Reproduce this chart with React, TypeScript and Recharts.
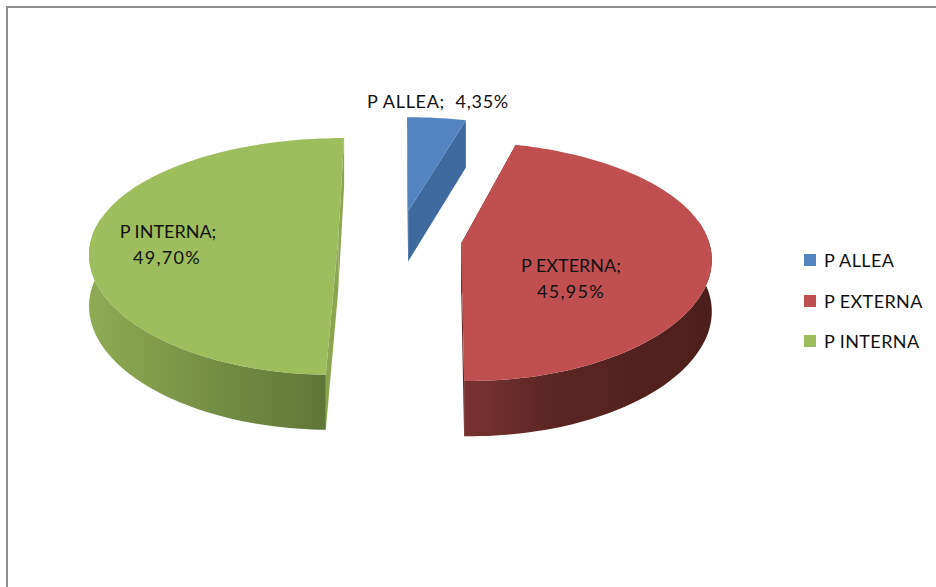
import React from 'react';
import { PieChart, Pie, Legend } from 'recharts';

const names = ['P ALLEA', 'P EXTERNA', 'P INTERNA'];
const shares = [4.35, 45.95, 49.7];
const colors = ['#5384c0', '#c0504f', '#9ebd5c'];

// side walls: [near the left end, a third along, near the right end]
const wallColors = [
  ['#3f6a9e', '#3f6a9e', '#3f6a9e'],
  ['#7a3331', '#5b2623', '#4c1e1b'],
  ['#8fab53', '#7c9649', '#5c7236'],
];
const faceColors = ['#3f6a9e', '#5f2725', '#8ba64f'];

const data = names.map((name, i) => ({ name, value: shares[i], fill: colors[i] }));

// where the data labels sit, one entry per line
const labelLines = [
  [{ x: 438, y: 101, spacing: 0.7, text: (v: string) => `P ALLEA;  ${v}` }],
  [
    { x: 571, y: 265, spacing: 0, text: () => 'P EXTERNA;' },
    { x: 571, y: 291, spacing: 1.3, text: (v: string) => v },
  ],
  [
    { x: 168, y: 231, spacing: 0, text: () => 'P INTERNA;' },
    { x: 167, y: 257, spacing: 1.3, text: (v: string) => v },
  ],
];

const FONT = 'Lato, "Open Sans", sans-serif';

// fake 3D: a perspective projection of the flat pie
const PERSPECTIVE_Y = 0.149;
const PERSPECTIVE_X = 0.11;
const HORIZON = 777; // px from the horizon down to the pie's centre
const THICKNESS = 51;
const EXPLODE = 0.25;
const VANISH_SHIFT = 3;

const percentText = (v: number) => `${v.toFixed(2).replace('.', ',')}%`;

const Slice3D = (props: any) => {
  const { cx, cy, outerRadius, startAngle, endAngle, payload, index } = props;
  const i = index ?? names.indexOf(payload.name);
  // recharts angles run counterclockwise from 3 o'clock, switch to clockwise from 12
  const from = 90 - startAngle;
  const to = 90 - endAngle;
  const mid = ((from + to) / 2) * (Math.PI / 180);
  const offU = EXPLODE * Math.sin(mid);
  const offZ = EXPLODE * Math.cos(mid);

  const project = (u: number, z: number, drop: number) => {
    const sx = 1 / (1 + PERSPECTIVE_X * z);
    const sy = 1 / (1 + PERSPECTIVE_Y * z);
    return [
      cx - VANISH_SHIFT + (u * outerRadius + VANISH_SHIFT) * sx,
      cy - HORIZON + HORIZON * sy + drop * (0.53 + 0.47 * sy),
    ];
  };
  const rim = (deg: number, drop: number) => {
    const a = deg * (Math.PI / 180);
    return project(offU + Math.sin(a), offZ + Math.cos(a), drop);
  };
  const tip = (drop: number) => project(offU, offZ, drop);

  const degs: number[] = [];
  for (let d = from; d < to; d += 1.5) degs.push(d);
  degs.push(to);

  // only the front of the rim shows a wall, the back one is hidden under the top
  const wallDegs = degs.filter((d) => Math.cos(d * (Math.PI / 180)) < 0.2);

  const toPath = (pts: number[][]) => `M${pts.map((p) => `${p[0].toFixed(1)},${p[1].toFixed(1)}`).join('L')}Z`;

  const top = toPath([tip(0), ...degs.map((d) => rim(d, 0))]);
  const wall = wallDegs.length
    ? toPath([...wallDegs.map((d) => rim(d, 0)), ...wallDegs.slice().reverse().map((d) => rim(d, THICKNESS))])
    : '';
  const faceEnd = toPath([tip(0), rim(to, 0), rim(to, THICKNESS), tip(THICKNESS)]);
  const faceStart = toPath([tip(0), rim(from, 0), rim(from, THICKNESS), tip(THICKNESS)]);

  const xs = degs.map((d) => rim(d, 0)[0]);
  const gradId = `wall-${i}`;

  return (
    <g>
      <defs>
        <linearGradient id={gradId} gradientUnits="userSpaceOnUse" x1={Math.min(...xs)} x2={Math.max(...xs)} y1={0} y2={0}>
          <stop offset="0%" stopColor={wallColors[i][0]} />
          <stop offset="35%" stopColor={wallColors[i][1]} />
          <stop offset="100%" stopColor={wallColors[i][2]} />
        </linearGradient>
      </defs>
      <path d={faceStart} fill={faceColors[i]} />
      <path d={faceEnd} fill={faceColors[i]} />
      {wall ? <path d={wall} fill={`url(#${gradId})`} /> : null}
      <path d={top} fill={payload.fill} />
      {labelLines[i].map((line) => (
        <text
          key={line.y}
          x={line.x}
          y={line.y}
          textAnchor="middle"
          dominantBaseline="central"
          fontFamily={FONT}
          fontSize={18}
          fill="#111"
          letterSpacing={line.spacing}
          style={{ whiteSpace: 'pre' }}
        >
          {line.text(percentText(payload.value))}
        </text>
      ))}
    </g>
  );
};

const LegendList = ({ payload }: any) => (
  <div style={{ fontFamily: FONT, fontSize: 18, color: '#111', letterSpacing: 0.4 }}>
    {(payload ?? []).map((entry: any) => (
      <div key={entry.value} style={{ display: 'flex', alignItems: 'center', height: 40.5 }}>
        <span style={{ width: 12, height: 12, background: entry.color, marginRight: 8 }} />
        <span>{entry.value}</span>
      </div>
    ))}
  </div>
);

export default function App() {
  return (
    <div style={{ position: 'absolute', left: 0, top: 0, width: 936, height: 587, overflow: 'hidden', background: '#fff' }}>
      <div style={{ position: 'absolute', left: 6, top: 6, width: 940, height: 600, borderLeft: '2px solid #8e8e8e', borderTop: '2px solid #8e8e8e' }} />
      <PieChart width={936} height={587} margin={{ top: 0, right: 0, bottom: 0, left: 0 }} style={{ position: 'absolute', left: 0, top: 0 }}>
        <Pie
          data={data}
          dataKey="value"
          nameKey="name"
          cx={400}
          cy={239}
          outerRadius={247}
          startAngle={90}
          endAngle={-270}
          stroke="none"
          labelLine={false}
          shape={Slice3D}
          isAnimationActive={false}
        />
        <Legend content={LegendList} layout="vertical" align="right" verticalAlign="top" wrapperStyle={{ left: 804, top: 240, width: 132 }} />
      </PieChart>
    </div>
  );
}
